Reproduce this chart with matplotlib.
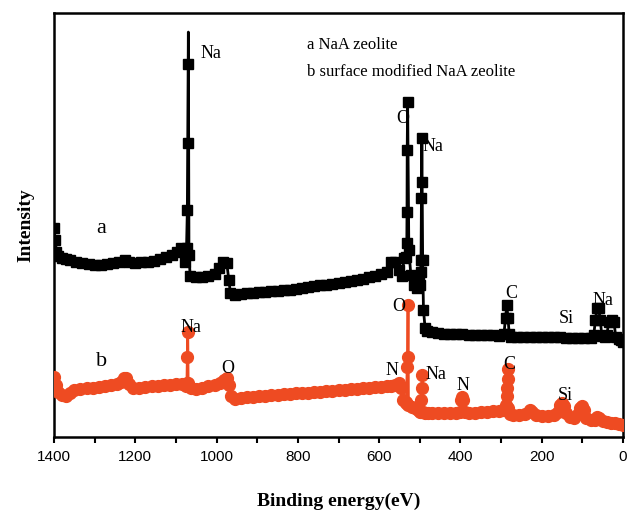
import numpy as np
import matplotlib.pyplot as plt
from matplotlib.ticker import MultipleLocator

# survey spectra: binding energy (eV) and intensity (arb. units)
energy_a = [1400, 1397, 1394, 1390, 1380, 1370, 1360, 1345, 1330, 1315, 1300, 1285,
            1270, 1255, 1240, 1225, 1215, 1200, 1185, 1170, 1155, 1140, 1125, 1110,
            1098, 1088, 1082, 1078, 1074, 1072, 1071, 1070, 1069.5, 1068, 1065, 1050,
            1035, 1020, 1005, 995, 985, 975, 970, 966, 955, 940, 925, 910, 895, 880,
            865, 850, 835, 820, 805, 790, 775, 760, 745, 730, 715, 700, 685, 670, 655,
            640, 625, 610, 595, 580, 570, 560, 552, 545, 538, 534, 532, 531.5, 531,
            530, 527, 522, 515, 508, 502, 500, 498, 497, 496, 495.5, 495, 493, 491,
            487, 482, 470, 455, 440, 425, 410, 395, 380, 365, 350, 335, 320, 305, 293,
            289, 286, 283, 280, 275, 260, 245, 230, 215, 200, 185, 170, 155, 140, 125,
            110, 95, 80, 72, 68, 64, 60, 56, 52, 45, 40, 35, 28, 22, 18, 10, 5, 0]
intensity_a = [209, 197, 185, 181, 179, 178, 177, 175, 174, 173, 172, 172,
               173, 174, 175, 177, 175, 174, 175, 175, 176, 178, 180, 182,
               185, 189, 187, 175, 189, 227, 294, 373, 405, 182, 161, 160,
               160, 161, 163, 169, 175, 174, 157, 144, 142, 143, 144, 144, 145, 145,
               146, 146, 147, 147, 148, 149, 150, 151, 152, 152, 153, 154, 155, 156, 157,
               158, 160, 161, 163, 165, 175, 175, 167, 161, 179, 180, 194, 225, 287,
               335, 187, 162, 152, 149, 157, 152, 165, 177, 239, 255, 299, 177, 127,
               109, 106, 105, 104, 103, 103, 103, 103, 102, 102, 102, 102, 102, 101, 103,
               119, 132, 119, 103, 100, 100, 100, 100, 100, 100, 100, 100, 100, 99, 99,
               99, 99, 99, 102, 117, 129, 129, 117, 101, 100, 102, 115, 117, 115, 100, 98, 97, 95]

energy_b = [1400, 1396, 1390, 1380, 1370, 1360, 1350, 1335, 1320, 1305, 1290, 1275,
            1260, 1245, 1235, 1228, 1222, 1215, 1205, 1190, 1175, 1160, 1145, 1130,
            1115, 1100, 1085, 1075, 1073, 1072, 1071, 1070, 1062, 1050, 1035, 1020,
            1005, 992, 982, 975, 970, 965, 955, 940, 925, 910, 895, 880, 865, 850,
            835, 820, 805, 790, 775, 760, 745, 730, 715, 700, 685, 670, 655, 640,
            625, 610, 595, 580, 570, 560, 552, 546, 541, 535, 533, 531, 530, 529,
            528, 520, 512, 505, 500, 497, 496, 495, 494, 493, 488, 480, 470, 455,
            440, 425, 412, 402, 399, 396, 393, 390, 380, 365, 350, 335, 320, 305,
            295, 288, 286, 285, 284, 283, 282, 278, 270, 255, 240, 230, 225, 215,
            200, 185, 170, 160, 155, 150, 145, 140, 130, 120, 110, 105, 100, 95,
            90, 80, 70, 65, 60, 50, 40, 30, 20, 10, 0]
intensity_b = [60, 52, 45, 42, 41, 44, 47, 48, 49, 49, 50, 51,
               52, 53, 55, 59, 59, 53, 49, 49, 50, 51, 51, 52,
               52, 53, 53, 51, 54, 80, 105, 54, 49, 48, 49, 51,
               52, 54, 57, 59, 52, 41, 38, 39, 40, 40, 41, 41, 42, 42,
               43, 43, 44, 44, 44, 45, 45, 46, 46, 47, 47, 48, 48, 49,
               49, 50, 50, 51, 51, 52, 54, 49, 37, 35, 34, 70, 80, 132,
               32, 30, 29, 27, 25, 25, 37, 49, 62, 25, 24, 24, 24, 24,
               24, 24, 24, 25, 37, 40, 37, 25, 24, 24, 25, 25, 26, 26,
               27, 32, 41, 49, 58, 68, 29, 23, 22, 22, 23, 27, 25, 22,
               21, 21, 22, 25, 32, 34, 31, 24, 20, 19, 23, 29, 31, 27,
               19, 17, 17, 20, 19, 16, 15, 14, 14, 13, 12]

peak_labels_a = [("Na", 1014, 384), ("O", 541, 319), ("Na", 468, 291),
                 ("C", 276, 144), ("Si", 140, 119), ("Na", 49, 137)]
peak_labels_b = [("Na", 1063, 110), ("O", 972, 69), ("O", 551, 131), ("N", 568, 67),
                 ("Na", 460, 63), ("N", 394, 52), ("C", 281, 73), ("Si", 143, 42)]

orange = "#EE4B22"

fig = plt.figure(figsize=(6.29, 5.13), dpi=100)
ax = fig.add_axes([0.0859, 0.148, 0.9046, 0.8265])

# the Na 1s line of sample a rises past its last symbol
ea = np.array(energy_a)
apex = int(np.argmax(intensity_a))
marks = [i for i in range(len(ea)) if i != apex]
ax.plot(energy_a, intensity_a, color="black", lw=2, marker="s", ms=7.5,
        markevery=marks, zorder=3)
ax.plot(energy_b, intensity_b, color=orange, lw=2, marker="o", ms=8.5,
        mec=orange, zorder=3)

serif = ["Liberation Serif", "DejaVu Serif"]
for txt, x, y in peak_labels_a + peak_labels_b:
    ax.text(x, y, txt, family=serif, fontsize=13, ha="center", va="center", zorder=4)

ax.text(1284, 209, "a", family=serif, fontsize=16, ha="center", va="center")
ax.text(1282, 76, "b", family=serif, fontsize=16, ha="center", va="center")
ax.text(778, 392, "a NaA zeolite", family=serif, fontsize=12, ha="left", va="center")
ax.text(778, 365, "b surface modified NaA zeolite", family=serif, fontsize=12,
        ha="left", va="center")

ax.set_xlim(1400, 0)
ax.set_ylim(0, 424)
ax.set_yticks([])
ax.xaxis.set_major_locator(MultipleLocator(200))
ax.xaxis.set_minor_locator(MultipleLocator(100))
ax.tick_params(axis="x", which="both", direction="out", length=4, width=1.5,
               labelsize=11, pad=5)
for lab in ax.get_xticklabels():
    lab.set_family(["Liberation Sans", "DejaVu Sans"])
for sp in ax.spines.values():
    sp.set_linewidth(1.8)

ax.set_xlabel("Binding energy(eV)", family=serif, fontsize=14, fontweight="bold",
              labelpad=21)
ax.set_ylabel("Intensity", family=serif, fontsize=14, fontweight="bold", labelpad=14)

fig.savefig("out.png", dpi=100)
